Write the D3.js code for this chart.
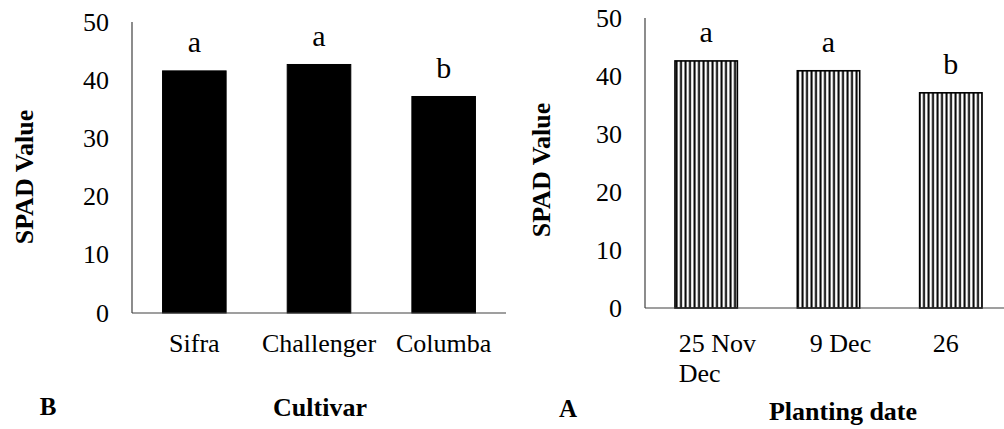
<!DOCTYPE html>
<html>
<head>
<meta charset="utf-8">
<script src="https://cdn.jsdelivr.net/npm/d3@7"></script>
<style>
  body { margin: 0; background: #fff; }
</style>
</head>
<body>
<svg id="chart" width="1004" height="429"></svg>
<script>
// panel B - cultivar
const cultivars = ["Sifra", "Challenger", "Columba"];
const cultivarSpad = [41.6, 42.7, 37.2];
const cultivarLetters = ["a", "a", "b"];

// panel A - planting date
const plantingDates = ["25 Nov", "9 Dec", "26 Dec"];
const plantingLabelLines = [["25 Nov", "Dec"], ["9 Dec"], ["26"]];
const plantingSpad = [42.6, 40.9, 37.1];
const plantingLetters = ["a", "a", "b"];

const yTicks = [0, 10, 20, 30, 40, 50];

const FONT = "'Liberation Serif', 'Times New Roman'";
const svg = d3.select("#chart");

// vertical hatch for panel A
const pat = svg.append("defs").append("pattern")
    .attr("id", "vhatch")
    .attr("patternUnits", "userSpaceOnUse")
    .attr("width", 4.5)
    .attr("height", 10);
pat.append("rect").attr("width", 4.5).attr("height", 10).attr("fill", "#fff");
pat.append("rect").attr("x", 0.5).attr("width", 2).attr("height", 10).attr("fill", "#000");

function txt(g, x, y, s, size, opts = {}) {
    const t = g.append("text")
        .attr("transform", `translate(${x},${y})` + (opts.rotate ? ` rotate(${opts.rotate})` : ""))
        .style("font-family", FONT)
        .attr("font-size", size + "px")
        .attr("font-weight", opts.bold ? "bold" : null)
        .attr("text-anchor", opts.anchor || "middle")
        .attr("fill", "#000")
        .text(s);
    if (opts.dy) t.attr("dy", opts.dy);
    return t;
}

function panel(cfg) {
    const g = svg.append("g");
    const x = d3.scaleBand().domain(cfg.cats).range([cfg.x0, cfg.x1]).paddingInner(0.49).paddingOuter(0.245);
    const y = d3.scaleLinear().domain([0, 50]).range([cfg.yBase, cfg.yTop]);

    // bars
    g.selectAll(".bar")
        .data(cfg.values)
        .enter()
        .append("rect")
        .attr("x", (d, i) => x(cfg.cats[i]))
        .attr("y", (d) => y(d))
        .attr("width", x.bandwidth())
        .attr("height", (d) => y(0) - y(d))
        .attr("fill", cfg.fill)
        .attr("stroke", "#000")
        .attr("stroke-width", cfg.stroke);

    // letters above bars
    cfg.letters.forEach((l, i) => {
        txt(g, x(cfg.cats[i]) + x.bandwidth() / 2, y(cfg.values[i]) - 18.5, l, 30);
    });

    // axes
    g.append("line")
        .attr("x1", cfg.x0).attr("x2", cfg.x0)
        .attr("y1", y(50)).attr("y2", y(0))
        .attr("stroke", "#404040").attr("stroke-width", 1.2);
    g.append("line")
        .attr("x1", cfg.x0).attr("x2", cfg.x1)
        .attr("y1", y(0)).attr("y2", y(0))
        .attr("stroke", "#404040").attr("stroke-width", 1.2);

    yTicks.forEach((t) => {
        txt(g, cfg.x0 - 23, y(t), String(t), 26, { anchor: "end", dy: "0.33em" });
    });

    // category labels
    cfg.labelLines.forEach((lines, i) => {
        const cx = x(cfg.cats[i]) + x.bandwidth() / 2 + cfg.labelShift[i];
        lines.forEach((s, k) => {
            if (lines.length > 1) {
                txt(g, cx - cfg.firstWidth / 2, cfg.labelY + k * 30, s, 26, { anchor: "start" });
            } else {
                txt(g, cx, cfg.labelY + k * 30, s, 26);
            }
        });
    });

    txt(g, cfg.titleX, cfg.titleYc, "SPAD Value", 26, { bold: true, rotate: -90 });
    txt(g, cfg.xTitleX, cfg.xTitleY, cfg.xTitle, 26, { bold: true });
    txt(g, cfg.tagX, cfg.tagY, cfg.tag, 25, { bold: true });
}

panel({
    cats: cultivars, values: cultivarSpad, letters: cultivarLetters,
    labelLines: cultivars.map((c) => [c]), labelShift: [0, 0, 0], firstWidth: 0,
    x0: 132, x1: 506, yTop: 22, yBase: 313,
    fill: "#000", stroke: 1,
    labelY: 352,
    titleX: 33, titleYc: 177,
    xTitle: "Cultivar", xTitleX: 320, xTitleY: 416,
    tag: "B", tagX: 48, tagY: 415
});

panel({
    cats: plantingDates, values: plantingSpad, letters: plantingLetters,
    labelLines: plantingLabelLines, labelShift: [11, 12, -5], firstWidth: 77,
    x0: 645, x1: 1012, yTop: 18, yBase: 308,
    fill: "url(#vhatch)", stroke: 1.6,
    labelY: 352,
    titleX: 550, titleYc: 170,
    xTitle: "Planting date", xTitleX: 843, xTitleY: 420,
    tag: "A", tagX: 568, tagY: 417
});
</script>
</body>
</html>
